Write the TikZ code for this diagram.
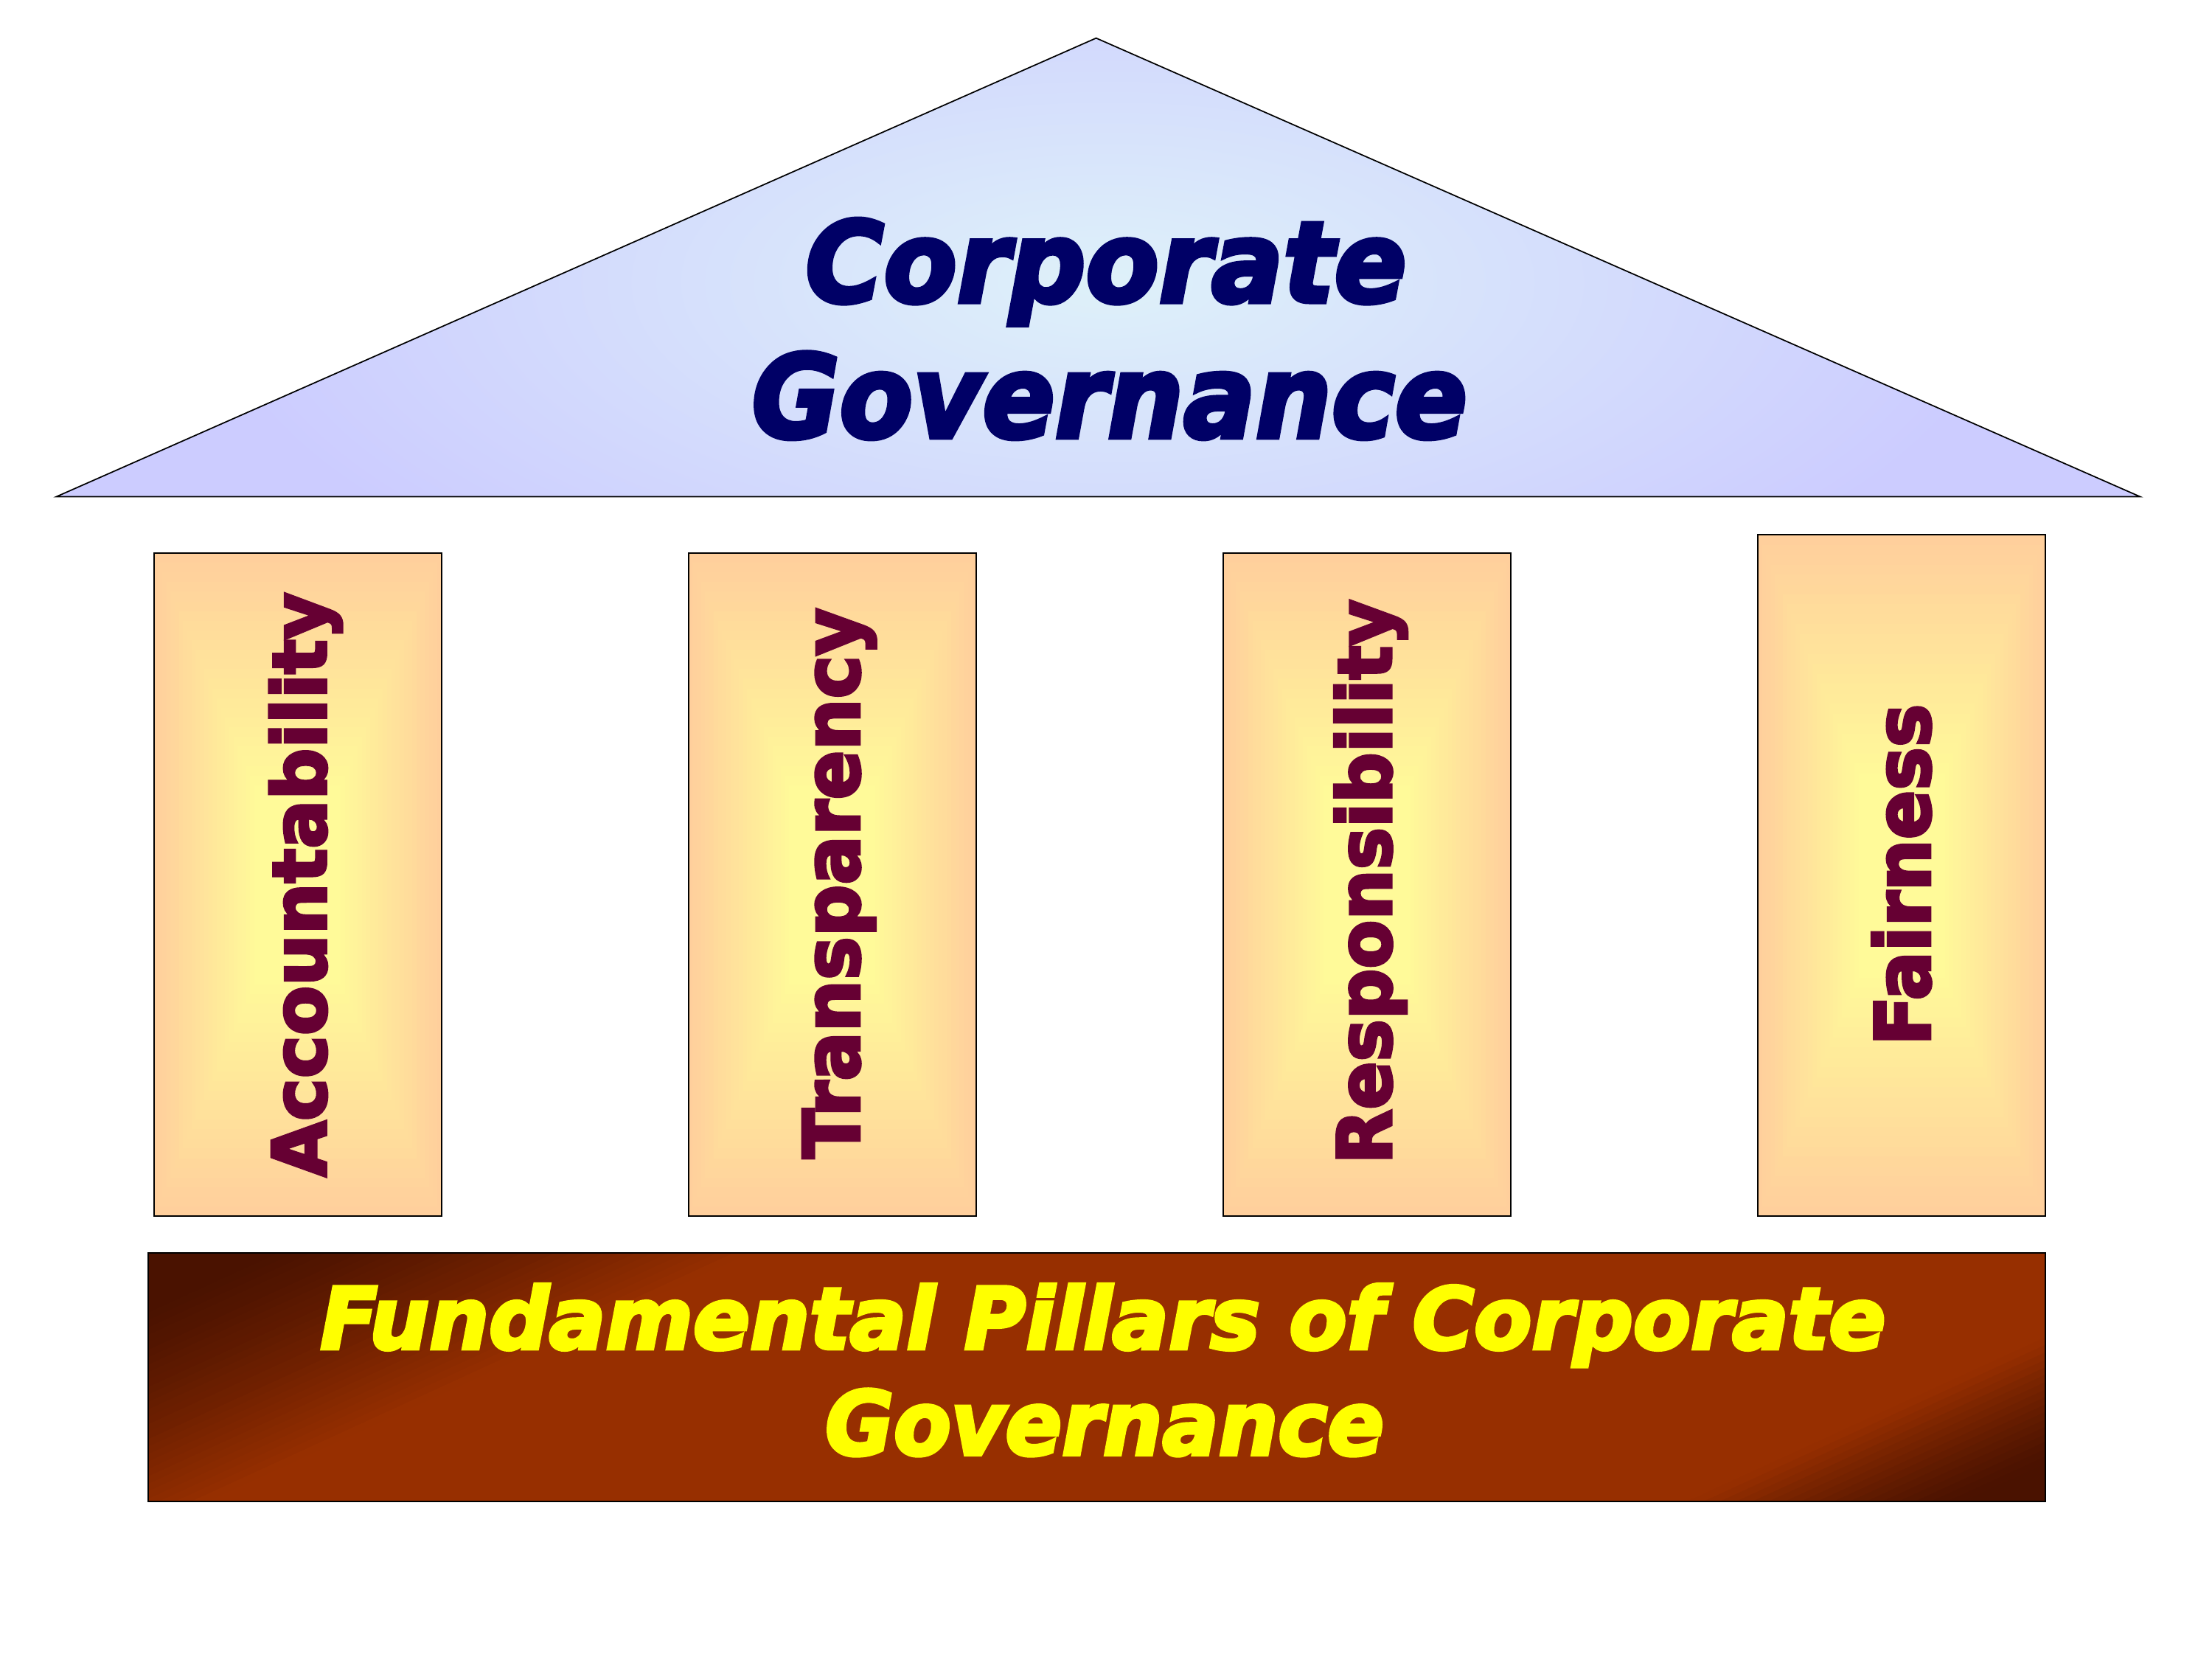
\documentclass[tikz,border=0pt]{standalone}
\usepackage{fontspec}
\setmainfont{DejaVu Sans}
\newfontfamily\heavyfont{DejaVu Sans}[BoldFeatures={FakeBold=4}, BoldItalicFeatures={FakeBold=4}]
\usepackage{graphicx}
\definecolor{roofedge}{HTML}{CCCCFF}
\definecolor{roofcenter}{HTML}{DEF1F9}
\definecolor{ppeach}{HTML}{FFCF9C}
\definecolor{pyellow}{HTML}{FFFA99}
\definecolor{pillartext}{HTML}{660033}
\definecolor{titleblue}{HTML}{000066}
\definecolor{bardark}{HTML}{4A1200}
\definecolor{barrust}{HTML}{972F00}
\definecolor{bartext}{HTML}{FFFF00}
\newcommand\fitto[3]{\resizebox{#1pt}{#2pt}{#3}}
\newcommand\pillarbox[4]{%
  \foreach \k in {0,...,24}{%
    \pgfmathsetmacro\tt{1-0.7*\k/24}%
    \pgfmathtruncatemacro\pp{100*\k/24}%
    \fill[pyellow!\pp!ppeach] ({(#1+#3)/2-\tt*(#3-#1)/2},{(#2+#4)/2-\tt*(#4-#2)/2}) rectangle ({(#1+#3)/2+\tt*(#3-#1)/2},{(#2+#4)/2+\tt*(#4-#2)/2});
  }%
  \draw[outline] (#1,#2) rectangle (#3,#4);
}
\tikzset{
  outline/.style={draw=black, line width=1pt},
  pillarlabel/.style={rotate=90, anchor=base west, inner sep=0pt, outer sep=0pt, text=pillartext, font=\heavyfont\bfseries},
  titlelabel/.style={anchor=base west, inner sep=0pt, outer sep=0pt, text=titleblue, font=\heavyfont\bfseries\itshape},
  barlabel/.style={anchor=base west, inner sep=0pt, outer sep=0pt, text=bartext, font=\heavyfont\bfseries\itshape}
}
\begin{document}
\begin{tikzpicture}[x=1pt,y=-1pt]
\useasboundingbox (0,0) rectangle (1568,1176);
\fill[white] (0,0) rectangle (1568,1176);
% roof
\coordinate (apex) at (777,27);
\coordinate (roofL) at (40,352);
\coordinate (roofR) at (1517,352);
\begin{scope}
  \clip (apex) -- (roofR) -- (roofL) -- cycle;
  \fill[roofedge] (0,0) rectangle (1568,400);
  \shade[inner color=roofcenter, outer color=roofedge] (785,200) ellipse [x radius=640, y radius=270];
\end{scope}
\draw[line width=0.9pt] (apex) -- (roofR) -- (roofL) -- cycle;
\node[titlelabel] (t1) at (571,214) {\fitto{426}{59}{Corporate}};
\node[titlelabel] (t2) at (533,310) {\fitto{507}{60.5}{Governance}};
% pillars
\pillarbox{109}{392}{313}{862}
\pillarbox{488}{392}{692}{862}
\pillarbox{867}{392}{1071}{862}
\pillarbox{1246}{379}{1450}{862}
\node[pillarlabel] (acc) at (231,834) {\fitto{414}{40}{Accountability}};
\node[pillarlabel] (tra) at (609,821) {\fitto{390}{40}{Transparency}};
\node[pillarlabel] (res) at (986,825) {\fitto{400}{40}{Responsibility}};
\node[pillarlabel] (fai) at (1368,741) {\fitto{242}{41}{Fairness}};
% base
\begin{scope}
  \clip (105,888) rectangle (1450,1064);
  \begin{scope}[shift={(105,888)}, x={(1345pt,0pt)}, y={(0pt,-176pt)}]
    \foreach \i in {0,...,149}{%
      \pgfmathsetmacro\wa{4.5*\i/150}%
      \pgfmathsetmacro\wb{4.5*(\i+1.4)/150}%
      \pgfmathsetmacro\wm{4.5*(\i+0.5)/150}%
      \pgfmathsetmacro\qq{max(0.001,min(1,(\wm-0.2)/0.9,(4.35-\wm)/0.5))}%
      \pgfmathtruncatemacro\pr{100*pow(\qq,1.3)}%
      \fill[barrust!\pr!bardark] (\wa/3.5,0) -- (\wb/3.5,0) -- ({(\wb-1)/3.5},1) -- ({(\wa-1)/3.5},1) -- cycle;
    }
  \end{scope}
\end{scope}
\draw[outline] (105,888) rectangle (1450,1064);
\node[barlabel] (b1) at (227,956) {\fitto{1109}{46}{Fundamental Pillars of Corporate}};
\node[barlabel] (b2) at (585,1031) {\fitto{396}{46.5}{Governance}};
\end{tikzpicture}
\end{document}
